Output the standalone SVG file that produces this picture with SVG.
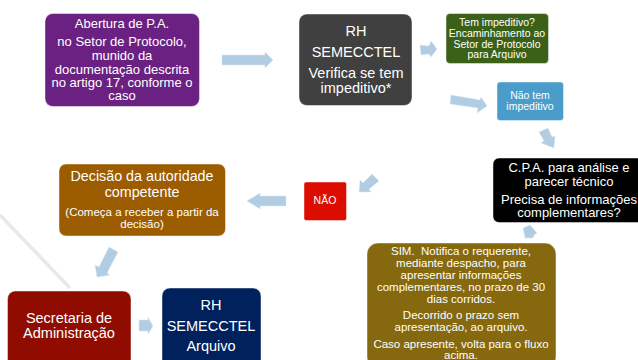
<svg xmlns="http://www.w3.org/2000/svg" width="638" height="360" viewBox="0 0 638 360">
<style>
text{font-family:"Liberation Sans",Arial,sans-serif;text-anchor:middle;fill:#fff;white-space:pre}
.box{stroke:#fff;stroke-opacity:.45;stroke-width:1}
.arrow{fill:#b0cde3;stroke:#dbe7f1;stroke-width:.5}
.a{font-size:13px}.r{font-size:14.500px}.t{font-size:10.500px}.o{font-size:11.500px}.d{font-size:14.300px}
</style>
<rect width="638" height="360" fill="#fff"/>
<path d="M0 215L70 288" fill="none" stroke="#e8e8e8" stroke-width="3.500"/>
<g id="connectors">
<polygon class="arrow" points="222,55 265,55 265,52 273,60 265,68 265,65 222,65"/>
<polygon class="arrow" points="420,45 429,46 431,41 437,49 431,57 429,54 421,55"/>
<polygon class="arrow" points="451,95 480,100 481,97 487,106 477,113 478,108 450,104"/>
<polygon class="arrow" points="539,132 548,128 552,137 555,136 554,148 541,143 544,141"/>
<polygon class="arrow" points="372,174 379,181 369,189 371,192 359,192 360,180 363,183"/>
<polygon class="arrow" points="286,196 286,206 260,206 260,209 247,201 260,193 260,196"/>
<polygon class="arrow" points="109,247 118,252 107,273 110,275 97,277 95,265 99,267"/>
<polygon class="arrow" points="139,320 148,320 148,317 153,326 148,334 148,331 139,331"/>
<polygon class="arrow" points="530,225 537,233 534,235 533,238 525,238 523,228"/>
</g>
<g id="node-abertura"><rect class="box" x="45" y="13.500" width="154.500" height="93" rx="8" fill="#6b2182"/>
<text class="a" x="122" y="28">Abertura de P.A.</text>
<text class="a" x="122" y="46">no Setor de Protocolo,</text>
<text class="a" x="122" y="60">munido da</text>
<text class="a" x="122" y="74">documentação descrita</text>
<text class="a" x="122" y="87">no artigo 17, conforme o</text>
<text class="a" x="122" y="100">caso</text></g>
<g id="node-rh1"><rect class="box" x="299" y="14" width="113" height="91.500" rx="8" fill="#404040"/>
<text class="r" x="356" y="36">RH</text>
<text class="r" x="356" y="57">SEMECCTEL</text>
<text class="r" x="356" y="78">Verifica se tem</text>
<text class="r" x="356" y="93">impeditivo*</text></g>
<g id="node-tem"><rect class="box" x="446" y="13.500" width="102.500" height="50" rx="4" fill="#3b6119"/>
<text class="t" x="497" y="26">Tem impeditivo?</text>
<text class="t" x="497" y="37">Encaminhamento ao</text>
<text class="t" x="497" y="47.500">Setor de Protocolo</text>
<text class="t" x="497" y="58">para Arquivo</text></g>
<g id="node-naotem"><rect class="box" x="497" y="82" width="66.500" height="38.500" rx="3" fill="#4a9ccb"/>
<text class="t" x="530" y="99">Não tem</text>
<text class="t" x="530" y="110">impeditivo</text></g>
<g id="node-cpa"><rect class="box" x="493" y="158" width="150" height="64.500" rx="6" fill="#000"/>
<text class="a" x="569" y="172">C.P.A. para análise e</text>
<text class="a" x="569" y="186">parecer técnico</text>
<text class="a" x="569" y="204">Precisa de informações</text>
<text class="a" x="569" y="217">complementares?</text></g>
<g id="node-sim"><rect class="box" x="367" y="243" width="189" height="125" rx="11" fill="#86690f"/>
<text class="o" x="461" y="255">SIM.  Notifica o requerente,</text>
<text class="o" x="461" y="267">mediante despacho, para</text>
<text class="o" x="461" y="279">apresentar informações</text>
<text class="o" x="461" y="291">complementares, no prazo de 30</text>
<text class="o" x="461" y="303">dias corridos.</text>
<text class="o" x="461" y="319">Decorrido o prazo sem</text>
<text class="o" x="461" y="331">apresentação, ao arquivo.</text>
<text class="o" x="461" y="348">Caso apresente, volta para o fluxo</text>
<text class="o" x="461" y="359">acima.</text></g>
<g id="node-nao"><rect class="box" x="304" y="182" width="42.500" height="38.500" rx="2" fill="#dc0c00"/>
<text class="t" x="325" y="204">NÃO</text></g>
<g id="node-decisao"><rect class="box" x="59" y="164" width="166.500" height="72" rx="7" fill="#9c5c00"/>
<text class="d" x="142" y="181">Decisão da autoridade</text>
<text class="d" x="142" y="197">competente</text>
<text class="o" x="142" y="216">(Começa a receber a partir da</text>
<text class="o" x="142" y="228">decisão)</text></g>
<g id="node-secretaria"><rect class="box" x="7.500" y="291" width="123.500" height="80" rx="8" fill="#900c00"/>
<text class="r" x="69" y="323">Secretaria de</text>
<text class="r" x="69" y="338">Administração</text></g>
<g id="node-rh2"><rect class="box" x="162" y="288" width="99" height="80" rx="8" fill="#00215c"/>
<text class="r" x="211" y="310">RH</text>
<text class="r" x="211" y="331">SEMECCTEL</text>
<text class="r" x="211" y="351">Arquivo</text></g>
</svg>
